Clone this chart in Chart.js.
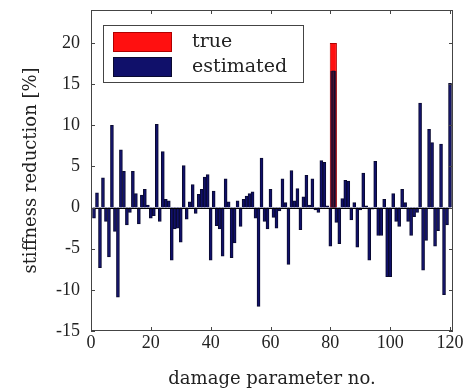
<!DOCTYPE html>
<html>
<head>
<meta charset="utf-8">
<script src="https://cdn.jsdelivr.net/npm/chart.js@4/dist/chart.umd.min.js"></script>
<style>
  html, body { margin: 0; background: #fff; }
  #wrap { width: 470px; height: 390px; }
</style>
</head>
<body>
<div id="wrap"><canvas id="damageChart"></canvas></div>
<script>
// damage parameter numbers 1..120
const params = Array.from({ length: 120 }, (_, i) => i + 1)

const trueReduction = [
  0, 0, 0, 0, 0, 0, 0, 0, 0, 0, 0, 0, 0, 0, 0, 0, 0, 0, 0, 0,
  0, 0, 0, 0, 0, 0, 0, 0, 0, 0, 0, 0, 0, 0, 0, 0, 0, 0, 0, 0,
  0, 0, 0, 0, 0, 0, 0, 0, 0, 0, 0, 0, 0, 0, 0, 0, 0, 0, 0, 0,
  0, 0, 0, 0, 0, 0, 0, 0, 0, 0, 0, 0, 0, 0, 0, 0, 0, 0, 0, 0,
  20, 0, 0, 0, 0, 0, 0, 0, 0, 0, 0, 0, 0, 0, 0, 0, 0, 0, 0, 0,
  0, 0, 0, 0, 0, 0, 0, 0, 0, 0, 0, 0, 0, 0, 0, 0, 0, 0, 0, 0
]

const estimated = [
  -1.3, 1.8, -7.3, 3.6, -1.7, -6.0, 10.0, -2.9, -10.9, 7.0,
  4.4, -2.1, -0.6, 4.4, 1.7, -2.0, 1.5, 2.2, 0.3, -1.3,
  -1.0, 10.1, -1.7, 6.8, 1.0, 0.8, -6.4, -2.6, -2.5, -4.2,
  5.1, -1.4, 0.7, 2.8, -0.7, 1.6, 2.2, 3.7, 4.0, -6.4,
  2.0, -2.2, -2.6, -5.9, 3.5, 0.7, -6.1, -4.3, 0.8, -2.3,
  1.0, 1.4, 1.7, 1.9, -1.3, -12.0, 6.0, -1.7, -2.6, 2.2,
  -1.2, -2.5, -0.4, 3.5, 0.6, -6.9, 4.5, 0.8, 2.3, -2.7,
  1.3, 3.9, 0.3, 3.5, -0.3, -0.6, 5.7, 5.5, 0.2, -4.7,
  16.6, -1.8, -4.4, 1.1, 3.3, 3.2, -1.5, 0.6, -4.8, -0.3,
  4.2, 0.2, -6.4, -0.2, 5.6, -3.4, -3.4, 1.0, -8.4, -8.4,
  1.7, -1.7, -2.3, 2.2, 0.6, -1.7, -3.4, -1.1, -0.6, 12.7,
  -7.6, -4.0, 9.5, 7.9, -4.7, -2.8, 7.7, -10.6, -2.1, 15.1
]

const xTicks = [0, 20, 40, 60, 80, 100, 120]
const yTicks = [-15, -10, -5, 0, 5, 10, 15, 20]

const red = '#ff1010'
const navy = '#10106a'
const maroon = '#4a0f2c'
const textColor = '#222'

// where true and estimated overlap, the bar shows dark
const overlap = trueReduction.map((t, i) => (t > 0 && estimated[i] > 0 ? Math.min(t, estimated[i]) : 0))

const boxFrame = {
  id: 'boxFrame',
  afterDatasetsDraw(chart) {
    const { ctx, chartArea: a, scales: { x, y } } = chart
    ctx.save()
    ctx.lineWidth = 1
    ctx.strokeStyle = '#000'
    const y0 = Math.round(y.getPixelForValue(0)) + 0.5
    ctx.beginPath()
    ctx.moveTo(a.left, y0)
    ctx.lineTo(a.right, y0)
    ctx.stroke()

    ctx.strokeStyle = '#444'
    ctx.strokeRect(a.left + 0.5, a.top + 0.5, a.width - 1, a.height - 1)
    ctx.beginPath()
    x.ticks.forEach((t) => {
      const px = Math.round(x.getPixelForValue(t.value)) + 0.5
      ctx.moveTo(px, a.bottom)
      ctx.lineTo(px, a.bottom - 4)
      ctx.moveTo(px, a.top)
      ctx.lineTo(px, a.top + 4)
    })
    y.ticks.forEach((t) => {
      const py = Math.round(y.getPixelForValue(t.value)) + 0.5
      ctx.moveTo(a.left, py)
      ctx.lineTo(a.left + 4, py)
      ctx.moveTo(a.right, py)
      ctx.lineTo(a.right - 4, py)
    })
    ctx.stroke()
    ctx.restore()
  }
}

const boxLegend = {
  id: 'boxLegend',
  afterDraw(chart) {
    const { ctx, chartArea: a } = chart
    const items = chart.data.datasets.filter((d) => d.inLegend)
    const bx = a.left + 12
    const by = a.top + 15
    ctx.save()
    ctx.fillStyle = '#fff'
    ctx.fillRect(bx, by, 200, 57)
    ctx.strokeStyle = '#444'
    ctx.lineWidth = 1
    ctx.strokeRect(bx + 0.5, by + 0.5, 200, 57)
    ctx.font = '19px "DejaVu Serif"'
    ctx.textBaseline = 'middle'
    items.forEach((d, i) => {
      const sy = by + 7 + i * 25
      ctx.fillStyle = d.legendColor
      ctx.fillRect(bx + 10, sy, 59, 20)
      ctx.strokeStyle = d.borderColor
      ctx.strokeRect(bx + 10.5, sy + 0.5, 58, 19)
      ctx.fillStyle = textColor
      ctx.fillText(d.label, bx + 89, sy + 10)
    })
    ctx.restore()
  }
}

new Chart(document.getElementById('damageChart'), {
  type: 'bar',
  data: {
    labels: params,
    datasets: [
      {
        label: 'true',
        data: trueReduction,
        backgroundColor: red,
        borderColor: '#b00000',
        borderWidth: 1,
        barPercentage: 2.4,
        order: 3,
        inLegend: true,
        legendColor: red
      },
      {
        label: 'overlap',
        data: overlap,
        backgroundColor: maroon,
        borderWidth: 0,
        barPercentage: 1.9,
        order: 2
      },
      {
        label: 'estimated',
        data: estimated,
        backgroundColor: (c) => (trueReduction[c.dataIndex] > 0 ? maroon : navy),
        borderColor: '#0a0a30',
        borderWidth: 1,
        order: 1,
        inLegend: true,
        legendColor: navy
      }
    ]
  },
  options: {
    responsive: true,
    maintainAspectRatio: false,
    animation: false,
    layout: { padding: { top: 10, right: 17, left: 0, bottom: 0 } },
    datasets: { bar: { grouped: false, categoryPercentage: 1, barPercentage: 1 } },
    plugins: { legend: { display: false }, tooltip: { enabled: false } },
    scales: {
      x: {
        type: 'linear',
        min: 0,
        max: 121,
        offset: false,
        grid: { display: false, drawTicks: false },
        border: { display: false },
        afterBuildTicks: (s) => { s.ticks = xTicks.map((v) => ({ value: v })) },
        afterFit: (s) => {
          s.height = 59
          s.paddingLeft = 0
          s.paddingRight = 0
        },
        ticks: { color: textColor, padding: 1, maxRotation: 0, font: { family: 'Liberation Serif', size: 18 } },
        title: {
          display: true,
          text: 'damage parameter no.',
          color: textColor,
          padding: { top: 0, bottom: 0 },
          font: { family: 'DejaVu Serif', size: 18 }
        }
      },
      y: {
        min: -15,
        max: 24,
        grid: { display: false, drawTicks: false },
        border: { display: false },
        afterBuildTicks: (s) => { s.ticks = yTicks.map((v) => ({ value: v })) },
        afterFit: (s) => {
          s.width = 91
          s.paddingTop = 0
          s.paddingBottom = 0
        },
        ticks: { color: textColor, padding: 11, font: { family: 'Liberation Serif', size: 18 } },
        title: {
          display: true,
          text: 'stiffness reduction [%]',
          color: textColor,
          padding: { top: 21, bottom: 0 },
          font: { family: 'DejaVu Serif', size: 18 }
        }
      }
    }
  },
  plugins: [boxFrame, boxLegend]
})
</script>
</body>
</html>
